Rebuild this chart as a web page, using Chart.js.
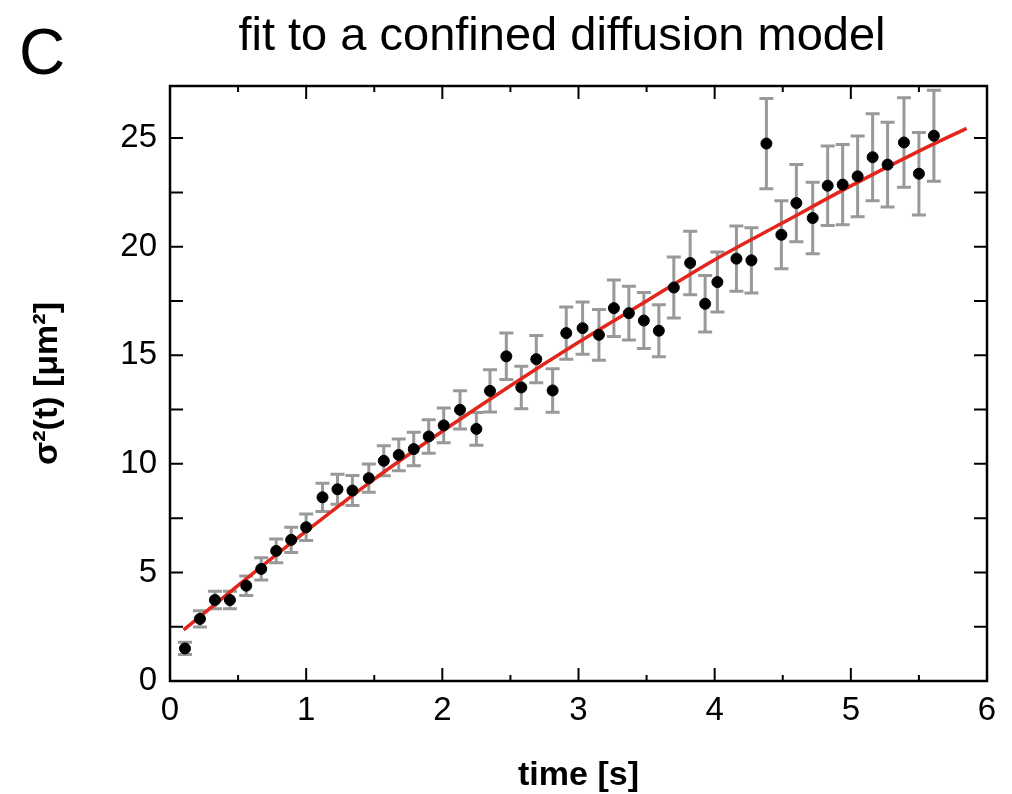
<!DOCTYPE html>
<html>
<head>
<meta charset="utf-8">
<script src="https://cdn.jsdelivr.net/npm/chart.js@4.4.0/dist/chart.umd.min.js"></script>
<style>
  html, body { margin: 0; padding: 0; background: #fff; }
  #wrap { width: 1012px; height: 794px; }
</style>
</head>
<body>
<div id="wrap"><canvas id="myChart" width="1012" height="794"></canvas></div>
<script>
const times = [0.11, 0.22, 0.33, 0.44, 0.56, 0.67, 0.78, 0.89, 1.00, 1.12,
  1.23, 1.34, 1.46, 1.57, 1.68, 1.79, 1.90, 2.01, 2.13, 2.25,
  2.35, 2.47, 2.58, 2.69, 2.81, 2.91, 3.03, 3.15, 3.26, 3.37,
  3.48, 3.59, 3.70, 3.82, 3.93, 4.02, 4.16, 4.27, 4.38, 4.49,
  4.60, 4.72, 4.83, 4.94, 5.05, 5.16, 5.27, 5.39, 5.50, 5.61];
const msd = [1.5, 2.86, 3.73, 3.73, 4.39, 5.16, 5.99, 6.5, 7.08, 8.46,
  8.83, 8.77, 9.34, 10.14, 10.41, 10.68, 11.26, 11.77, 12.49, 11.61,
  13.36, 14.95, 13.52, 14.82, 13.38, 16.02, 16.25, 15.94, 17.17, 16.94,
  16.6, 16.13, 18.12, 19.25, 17.37, 18.37, 19.45, 19.37, 24.75, 20.55,
  22.01, 21.32, 22.81, 22.86, 23.24, 24.12, 23.78, 24.8, 23.36, 25.11];
const msdErr = [0.28, 0.37, 0.4, 0.4, 0.45, 0.51, 0.55, 0.58, 0.61, 0.65,
  0.69, 0.69, 0.65, 0.69, 0.73, 0.77, 0.77, 0.8, 0.88, 0.75,
  0.97, 1.07, 0.98, 1.09, 1.0, 1.2, 1.2, 1.17, 1.3, 1.24,
  1.29, 1.2, 1.4, 1.46, 1.3, 1.38, 1.5, 1.5, 2.08, 1.57,
  1.78, 1.65, 1.83, 1.85, 1.86, 2.0, 1.95, 2.06, 1.9, 2.1];

// confined diffusion fit curve
const fitT = [0.1, 0.5, 1.0, 1.5, 2.0, 2.5, 3.0, 3.5, 4.0, 4.5, 5.0, 5.5, 5.85];
const fitV = [2.35, 4.4, 6.9, 9.3, 11.5, 13.6, 15.6, 17.5, 19.4, 21.1, 22.8, 24.4, 25.45];

const xTicks = [0, 1, 2, 3, 4, 5, 6];
const xMinor = [0.5, 1.5, 2.5, 3.5, 4.5, 5.5];
const yTicks = [0, 5, 10, 15, 20, 25];
const yMinor = [2.5, 7.5, 12.5, 17.5, 22.5];

const FONT = "'Liberation Sans', Arial, sans-serif";

// error bars, frame with inward ticks, title and panel letter
const decor = {
  id: 'decor',
  beforeDatasetsDraw(chart) {
    const { ctx, scales: { x, y } } = chart;
    ctx.save();
    ctx.strokeStyle = '#999999';
    ctx.lineWidth = 3;
    times.forEach((t, i) => {
      const px = x.getPixelForValue(t);
      const top = y.getPixelForValue(msd[i] + msdErr[i]);
      const bot = y.getPixelForValue(msd[i] - msdErr[i]);
      ctx.beginPath();
      ctx.moveTo(px, top); ctx.lineTo(px, bot);
      ctx.moveTo(px - 7, top); ctx.lineTo(px + 7, top);
      ctx.moveTo(px - 7, bot); ctx.lineTo(px + 7, bot);
      ctx.stroke();
    });
    ctx.restore();
  },
  afterDraw(chart) {
    const { ctx, chartArea: a, scales: { x, y } } = chart;
    ctx.save();
    ctx.strokeStyle = '#000';
    ctx.lineWidth = 2.5;
    ctx.strokeRect(a.left, a.top, a.right - a.left, a.bottom - a.top);
    ctx.lineWidth = 2;
    ctx.beginPath();
    const xt = (v, len) => {
      const px = x.getPixelForValue(v);
      ctx.moveTo(px, a.bottom); ctx.lineTo(px, a.bottom - len);
      ctx.moveTo(px, a.top); ctx.lineTo(px, a.top + len);
    };
    const yt = (v, len) => {
      const py = y.getPixelForValue(v);
      ctx.moveTo(a.left, py); ctx.lineTo(a.left + len, py);
      ctx.moveTo(a.right, py); ctx.lineTo(a.right - len, py);
    };
    xTicks.forEach(v => xt(v, 13));
    xMinor.forEach(v => xt(v, 6));
    yTicks.forEach(v => yt(v, 13));
    yMinor.forEach(v => yt(v, 13));
    ctx.stroke();

    ctx.fillStyle = '#000';
    ctx.textAlign = 'center';
    ctx.textBaseline = 'alphabetic';
    ctx.font = '47px ' + FONT;
    ctx.fillText('fit to a confined diffusion model', 562, 50);
    ctx.textAlign = 'left';
    ctx.font = '64px ' + FONT;
    ctx.fillText('C', 19, 74);
    ctx.restore();
  }
};

new Chart(document.getElementById('myChart'), {
  type: 'scatter',
  data: {
    datasets: [
      {
        type: 'scatter',
        data: times.map((t, i) => ({ x: t, y: msd[i] })),
        backgroundColor: '#000',
        borderColor: '#000',
        pointRadius: 5.5,
        order: 0
      },
      {
        type: 'line',
        data: fitT.map((t, i) => ({ x: t, y: fitV[i] })),
        borderColor: '#e3261c',
        borderWidth: 3.5,
        pointRadius: 0,
        fill: false,
        cubicInterpolationMode: 'monotone',
        order: 1
      }
    ]
  },
  plugins: [decor],
  options: {
    responsive: false,
    animation: false,
    layout: { padding: { left: 20, right: 25, top: 86, bottom: 0 } },
    plugins: { legend: { display: false }, tooltip: { enabled: false } },
    scales: {
      x: {
        type: 'linear',
        min: 0,
        max: 6,
        afterBuildTicks: s => { s.ticks = xTicks.map(v => ({ value: v })); },
        afterFit: s => { s.height = 113; },
        grid: { display: false, drawTicks: false },
        border: { display: false },
        ticks: { color: '#000', padding: 10, font: { family: FONT, size: 33 } },
        title: {
          display: true,
          text: 'time [s]',
          color: '#000',
          padding: { top: 0, bottom: 1 },
          font: { family: FONT, size: 34, weight: 'bold', lineHeight: 1 }
        }
      },
      y: {
        type: 'linear',
        min: 0,
        max: 27.4,
        afterBuildTicks: s => { s.ticks = yTicks.map(v => ({ value: v })); },
        afterFit: s => { s.width = 150; },
        grid: { display: false, drawTicks: false },
        border: { display: false },
        ticks: { color: '#000', padding: 13, font: { family: FONT, size: 33 } },
        title: {
          display: true,
          text: 'σ²(t) [μm²]',
          color: '#000',
          padding: { top: 11, bottom: 0 },
          font: { family: FONT, size: 34, weight: 'bold', lineHeight: 1 }
        }
      }
    }
  }
});
</script>
</body>
</html>
